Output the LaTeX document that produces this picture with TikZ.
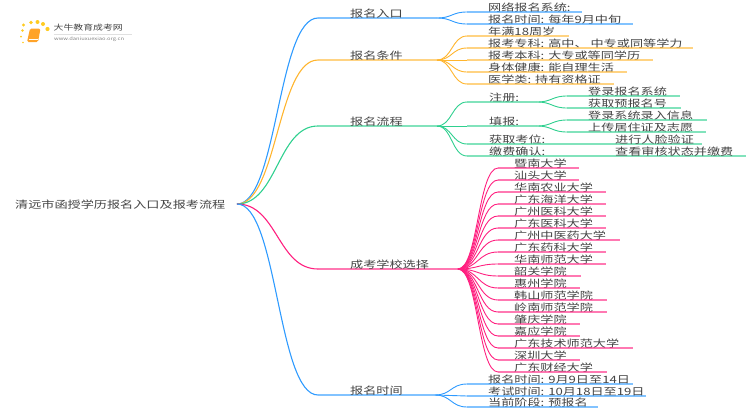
\documentclass[tikz,border=0pt]{standalone}
\usepackage{fontspec}
\setmainfont[FakeStretch=1.3]{Noto Sans CJK SC}
\usetikzlibrary{calc}
\definecolor{bluebr}{HTML}{2F9BFF}
\definecolor{orangebr}{HTML}{FFB52E}
\definecolor{greenbr}{HTML}{2FD08F}
\definecolor{pinkbr}{HTML}{FF1F7F}
\definecolor{inktext}{HTML}{444444}
\tikzset{
    branch/.style={to path={let \p1=(\tikztostart), \p2=(\tikztotarget) in
        .. controls (\x1/2+\x2/2,\y1) and (\x1/2+\x2/2,\y2) .. (\tikztotarget)}},
    main/.style={inner sep=0pt, anchor=base west, text=inktext, font=\fontsize{10.1}{12}\selectfont},
    limb/.style={line width=1.1pt},
    twig/.style={line width=0.9pt},
    flat/.style={line width=1.3pt, draw opacity=0.6}
}
\begin{document}
\begin{tikzpicture}[x=1pt, y=-1pt]
    \useasboundingbox (0, 0) rectangle (750, 410);

    % logo
    \fill[orangebr!90!red, rounded corners=1.5pt] (30, 28.5) -- (40.5, 28.5) -- (38, 42) -- (27, 42) -- cycle;
    \draw[white, line width=0.5pt] (29, 39.5) -- (37.5, 39.5);
    \foreach \px/\py/\pr in {23.5/25/1.6, 31/22.5/1.9, 37.5/22/2, 43/24/2, 47.5/29/2.1, 22.5/30.5/1.3, 21/36.5/1, 23/42.5/0.8}
        \fill[orangebr!70!yellow] (\px, \py) circle (\pr pt);
    \node[main, font=\fontsize{7.6}{10}\selectfont] (title) at (53.5, 30.5) {大牛教育成考网};
    \node[main, text=gray, font=\fontsize{4.45}{6}\selectfont] (site) at (54, 40.5) {www.daniuxuexiao.org.cn};
    \draw[black!12, line width=0.5pt] (title.south west) ++(0, 3) -- ++(78, 0);

    % root
    \node[main] (root) at (15, 208) {清远市函授学历报名入口及报考流程};
    \coordinate (R) at (237, 204);

    % entrance
    \coordinate (A0) at (318, 18);
    \coordinate (A1) at (437, 18);
    \draw[limb, bluebr] (R) to[branch] (A0);
    \draw[flat, bluebr] (A0) -- (A1);
    \node[main] (entry) at (350, 17) {报名入口};
    \foreach \ly/\e/\txt in {12/582/网络报名系统:, 24/633/报名时间: 每年9月中旬} {
        \node[main] (a\ly) at (488, \ly-1) {\txt};
        \draw[twig, bluebr] (A1) to[branch] (467, \ly);
        \draw[flat, bluebr] (467, \ly) -- (\e, \ly);
    }

    % conditions
    \coordinate (B0) at (318, 60);
    \coordinate (B1) at (437, 60);
    \draw[limb, orangebr] (R) to[branch] (B0);
    \draw[flat, orangebr] (B0) -- (B1);
    \node[main] (cond) at (350, 59) {报名条件};
    \foreach \ly/\e/\txt in {36/569/年满18周岁, 48/693/报考专科: 高中、 中专或同等学力, 60/653/报考本科: 大专或等同学历, 72/627/身体健康: 能自理生活, 84/614/医学类: 持有资格证} {
        \node[main] (b\ly) at (488, \ly-1) {\txt};
        \draw[twig, orangebr] (B1) to[branch] (467, \ly);
        \draw[flat, orangebr] (467, \ly) -- (\e, \ly);
    }

    % process
    \coordinate (C0) at (318, 126);
    \coordinate (C1) at (437, 126);
    \draw[limb, greenbr] (R) to[branch] (C0);
    \draw[flat, greenbr] (C0) -- (C1);
    \node[main] (proc) at (350, 125) {报名流程};
    \foreach \ly/\e/\txt in {102/537/注册:, 126/537/填报:, 144/702/获取考位:, 156/746/缴费确认:} {
        \node[main] (c\ly) at (489, \ly-1) {\txt};
        \draw[twig, greenbr] (C1) to[branch] (467, \ly);
        \draw[flat, greenbr] (467, \ly) -- (\e, \ly);
    }
    \foreach \f/\ly/\e/\txt in {102/96/680/登录报名系统, 102/108/681/获取预报名号, 126/120/707/登录系统录入信息, 126/132/706/上传居住证及志愿} {
        \node[main] (d\ly) at (588, \ly-1) {\txt};
        \draw[twig, greenbr] (537, \f) to[branch] (567, \ly);
        \draw[flat, greenbr] (567, \ly) -- (\e, \ly);
    }
    \node[main] (verify) at (615, 143) {进行人脸验证};
    \node[main] (pay) at (615, 155) {查看审核状态并缴费};

    % schools
    \coordinate (E0) at (318, 269);
    \coordinate (E1) at (458, 269);
    \draw[limb, pinkbr] (R) to[branch] (E0);
    \draw[flat, pinkbr] (E0) -- (E1);
    \node[main] (school) at (350, 268) {成考学校选择};
    \foreach \ly/\e/\txt in {168/579/暨南大学, 180/579/汕头大学, 192/606/华南农业大学, 204/606/广东海洋大学, 216/606/广州医科大学, 228/606/广东医科大学, 240/620/广州中医药大学, 252/606/广东药科大学, 264/606/华南师范大学, 276/581/韶关学院, 288/580/惠州学院, 300/607/韩山师范学院, 312/607/岭南师范学院, 324/580/肇庆学院, 336/580/嘉应学院, 348/633/广东技术师范大学, 360/580/深圳大学, 372/607/广东财经大学} {
        \node[main] (e\ly) at (514, \ly-1) {\txt};
        \draw[twig, pinkbr] (E1) to[branch] (498, \ly);
        \draw[flat, pinkbr] (498, \ly) -- (\e, \ly);
    }

    % time
    \coordinate (F0) at (318, 395);
    \coordinate (F1) at (435, 395);
    \draw[limb, bluebr] (R) to[branch] (F0);
    \draw[flat, bluebr] (F0) -- (F1);
    \node[main] (time) at (350, 394) {报名时间};
    \foreach \ly/\e/\txt in {384/633/报名时间: 9月9日至14日, 396/646/考试时间: 10月18日至19日, 407/598/当前阶段: 预报名} {
        \node[main] (f\ly) at (488, \ly-1) {\txt};
        \draw[twig, bluebr] (F1) to[branch] (467, \ly);
        \draw[flat, bluebr] (467, \ly) -- (\e, \ly);
    }
\end{tikzpicture}
\end{document}
